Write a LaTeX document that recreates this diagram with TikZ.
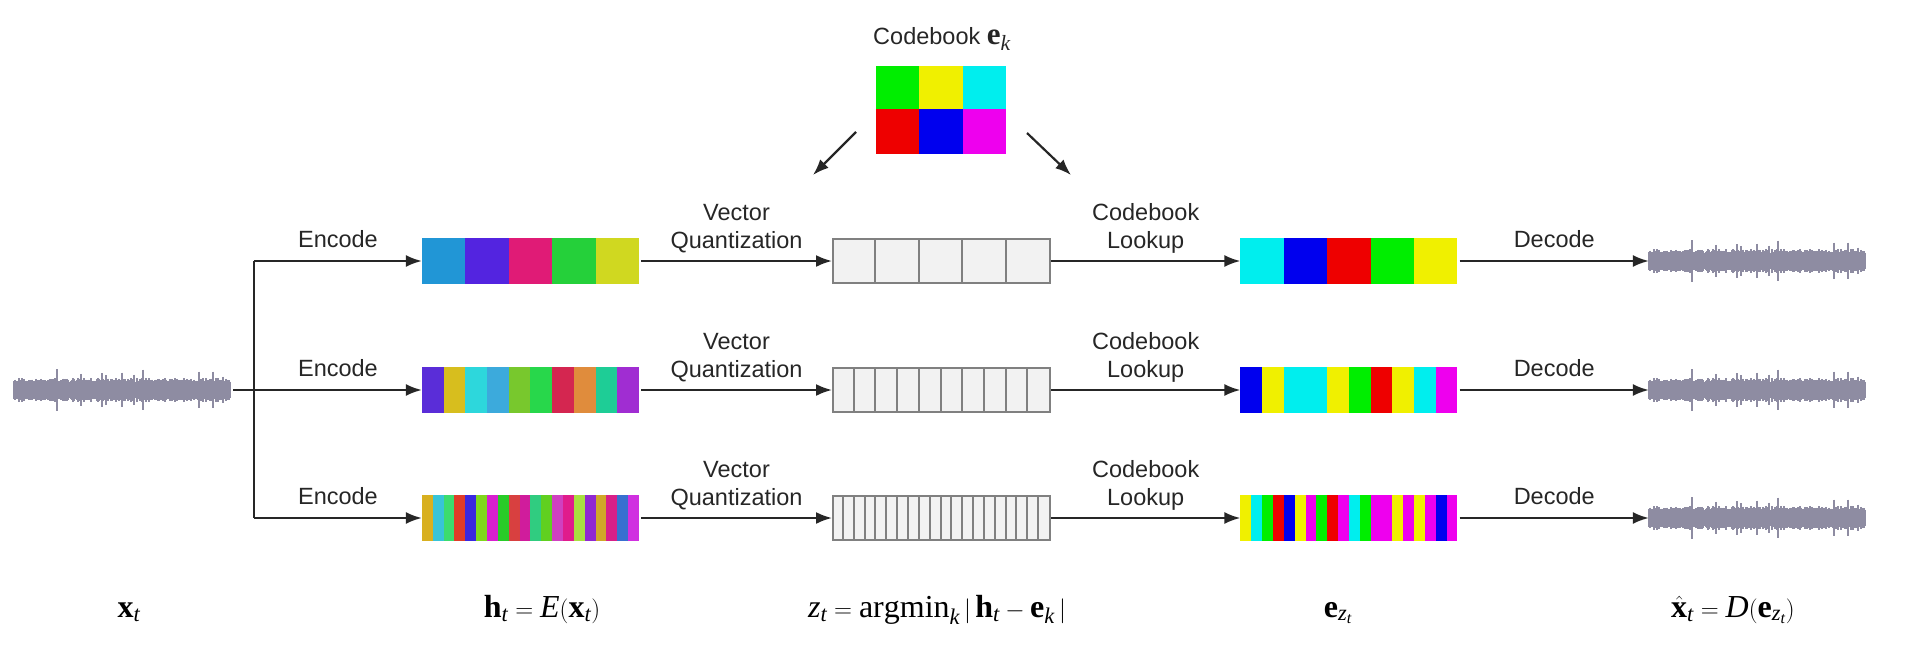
\documentclass[tikz,border=0pt]{standalone}
\usepackage{fontspec}
\setmainfont{Liberation Serif}
\setsansfont{Liberation Sans}
\usetikzlibrary{arrows.meta}

% coloured cells along a bar: node, cell width, hex colours
\newcommand{\stripes}[3]{%
  \foreach \c [count=\i from 0] in {#3}{
    \definecolor{stripe}{HTML}{\c}
    \fill[stripe] ([xshift={\i*#2}]#1.north west) rectangle ([xshift={(\i+1)*#2}]#1.south west);
  }}
% cell borders of a quantized bar: node, number of cells
\newcommand{\cells}[2]{%
  \pgfmathtruncatemacro{\last}{#2-1}
  \foreach \i in {1,...,\last}
    \draw[cell] ([xshift={\i*217/#2}]#1.north west) -- ([xshift={\i*217/#2}]#1.south west);
}
% noisy audio trace centred on a node
\newcommand{\wavefm}[1]{%
  \pgfmathsetseed{11}
  \foreach \k in {0,...,216}{
    \pgfmathsetmacro{\amp}{rnd>0.93 ? 13+8*rnd : 8+4*rnd}
    \draw[wavegray, line width=1.6pt] ([xshift=\k]#1.west) ++(0,-\amp) -- ++(0,2*\amp);
  }}

\definecolor{wavegray}{HTML}{8E8CA2}

\begin{document}
\begin{tikzpicture}[x=1pt, y=-1pt, line width=2.2pt,
  lbl/.style={font=\sffamily\fontsize{23.5}{28}\selectfont, text=black!85, align=center, inner sep=0pt, text depth=0pt},
  wire/.style={draw=black!85, -{Latex[length=16pt, width=12pt]}},
  bar/.style={minimum width=217pt, minimum height=44pt, inner sep=0pt},
  qbar/.style={bar, fill=black!5, draw=black!50, line width=2pt},
  cell/.style={draw=black!50, line width=2pt},
  wavebox/.style={minimum width=217pt, minimum height=30pt, inner sep=0pt},
  eqn/.style={font=\fontsize{32}{34}\selectfont, inner sep=0pt, anchor=base}]
	\useasboundingbox (0,0) rectangle (1920,667);
	% Codebook:
	\node[lbl, anchor=base] (cbt) at (942,44) {Codebook {\fontsize{31}{32}\selectfont$\mathbf{e}_{\mathit{k}}$}};
	\node[minimum width=130pt, minimum height=43pt, inner sep=0pt] (cbtop) at (942,88.5) {};
	\node[minimum width=130pt, minimum height=43pt, inner sep=0pt] (cbbot) at (942,131.5) {};
	\stripes{cbtop}{43.33}{00EE00,F0F000,00EEEE}
	\stripes{cbbot}{43.33}{EE0000,0000EE,EE00EE}
	\coordinate (cl0) at (856,132);
	\coordinate (cl1) at (813,175);
	\coordinate (cr0) at (1027,133);
	\coordinate (cr1) at (1071,175);
	\draw[wire] (cl0) -- (cl1);
	\draw[wire] (cr0) -- (cr1);
	% Input and output traces:
	\node[wavebox] (xin) at (123.5,390) {};
	\node[wavebox] (xout1) at (1758.5,261) {};
	\node[wavebox] (xout2) at (1758.5,390) {};
	\node[wavebox] (xout3) at (1758.5,518) {};
	\wavefm{xin}
	\wavefm{xout1}
	\wavefm{xout2}
	\wavefm{xout3}
	% Encoded bars:
	\node[bar] (enc1) at (531.5,261) {};
	\node[bar] (enc2) at (531.5,390) {};
	\node[bar] (enc3) at (531.5,518) {};
	\stripes{enc1}{43.4}{2196D6,5324E0,E01B76,25D03A,D0D820}
	\stripes{enc2}{21.7}{5A2DD8,D7BE1E,2DD7DC,3CAADC,78C82D,28D74B,D42650,E08C3C,1ECD96,A02DD2}
	\stripes{enc3}{10.85}{D8B020,38C4D8,3CDC6E,E03C28,3A28E0,80D81C,D820D0,28CC28,D84040,D01C9C,30CC80,60D020,D040C0,E01C8C,A8E040,9028D0,D0A828,D82088,3870D0,D030E0}
	% Quantized indices:
	\node[qbar] (vq1) at (941.5,261) {};
	\node[qbar] (vq2) at (941.5,390) {};
	\node[qbar] (vq3) at (941.5,518) {};
	\cells{vq1}{5}
	\cells{vq2}{10}
	\cells{vq3}{20}
	% Looked-up codes:
	\node[bar] (dec1) at (1350,261) {};
	\node[bar] (dec2) at (1350,390) {};
	\node[bar] (dec3) at (1350,518) {};
	\stripes{dec1}{43.4}{00EEEE,0000EE,EE0000,00EE00,F0F000}
	\stripes{dec2}{21.7}{0000EE,F0F000,00EEEE,00EEEE,F0F000,00EE00,EE0000,F0F000,00EEEE,EE00EE}
	\stripes{dec3}{10.85}{F0F000,00EEEE,00EE00,EE0000,0000EE,F0F000,EE00EE,00EE00,EE0000,EE00EE,00EEEE,00EE00,EE00EE,EE00EE,F0F000,EE00EE,F0F000,EE00EE,0000EE,EE00EE}
	% Wires:
	\coordinate (jtop) at (254,261);
	\coordinate (jmid) at (254,390);
	\coordinate (jbot) at (254,518);
	\draw[draw=black!85] (jtop) -- (jbot);
	\draw[draw=black!85] (xin.east) -- (jmid);
	\draw[wire] (jtop) -- node[lbl, above=12pt] {Encode} (enc1.west);
	\draw[wire] (jmid) -- node[lbl, above=12pt] {Encode} (enc2.west);
	\draw[wire] (jbot) -- node[lbl, above=12pt] {Encode} (enc3.west);
	\foreach \r in {1,2,3}{
		\draw[wire] (enc\r.east) -- node[lbl, above=11pt] {Vector\\Quantization} (vq\r.west);
		\draw[wire] (vq\r.east) -- node[lbl, above=11pt] {Codebook\\Lookup} (dec\r.west);
		\draw[wire] (dec\r.east) -- node[lbl, above=12pt] {Decode} (xout\r.west);
	}
	% Formulas:
	\node[eqn] (fx) at (129,617) {$\mathbf{x}_{\mathit{t}}$};
	\node[eqn] (fh) at (542,617) {$\mathbf{h}_{\mathit{t}} = \mathit{E}(\mathbf{x}_{\mathit{t}})$};
	\node[eqn] (fz) at (937,617) {$\mathit{z}_{\mathit{t}} = \mathrm{argmin}_{\mathit{k}} \,|\, \mathbf{h}_{\mathit{t}} - \mathbf{e}_{\mathit{k}} \,|$};
	\node[eqn] (fe) at (1338,617) {$\mathbf{e}_{\mathit{z}_{\mathit{t}}}$};
	\node[eqn] (fd) at (1733,617) {$\hat{\mathbf{x}}_{\mathit{t}} = \mathit{D}(\mathbf{e}_{\mathit{z}_{\mathit{t}}})$};
\end{tikzpicture}
\end{document}
